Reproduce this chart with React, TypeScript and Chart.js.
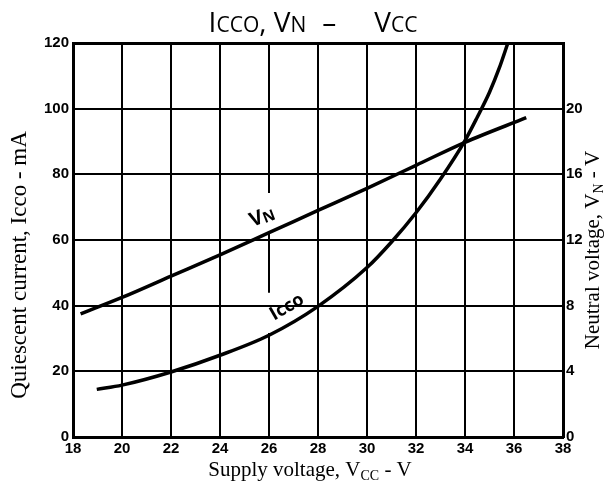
import React, { useEffect, useRef } from "react";
import { Chart, registerables } from "chart.js";

Chart.register(...registerables);

// ---- data ----
const vccForIcco = [18.97, 20, 22, 24, 26, 28, 30, 31, 32, 33, 34, 34.5, 35, 35.4, 35.75];
const iccoMilliamps = [14.5, 15.8, 19.8, 24.9, 31.0, 39.8, 51.6, 59.4, 68.3, 78.6, 90.3, 97.4, 105, 112.4, 120];
const vccForVn = [18.31, 20, 22, 24, 26, 28, 30, 32, 34, 36.5];
const vnVolts = [7.5, 8.5, 9.8, 11.1, 12.45, 13.8, 15.15, 16.55, 17.95, 19.45];

const xMin = 18, xMax = 38, xStep = 2;
const leftMax = 120, leftStep = 20;
const rightMax = 24, rightStep = 4, rightLastLabel = 20;

// curve label anchors (data units: x, left-axis value)
const vnLabelAt = [25.7, 67.3];
const iccoLabelAt = [26.7, 40.0];

// x=26 grid line is interrupted around the curve labels (left-axis value spans that are drawn)
const splitGridX = 26;
const splitGridSpans: number[][] = [[120, 74.3], [62.1, 43.9], [31.7, 0]];

const TICK_FONT = "'Liberation Sans Narrow', 'Arial Narrow', 'Liberation Sans', sans-serif";
const SERIF = "'Liberation Serif', 'Times New Roman', serif";
const SANS = "'Open Sans', 'DejaVu Sans', sans-serif";

type Run = { t: string; f: string; dy?: number; gap?: number };

function runsWidth(ctx: CanvasRenderingContext2D, runs: Run[]) {
  let w = 0;
  for (const r of runs) {
    if (r.gap) { w += r.gap; continue; }
    ctx.font = r.f;
    w += ctx.measureText(r.t).width;
  }
  return w;
}

function drawRuns(ctx: CanvasRenderingContext2D, runs: Run[], cx: number, baseline: number) {
  let x = cx - runsWidth(ctx, runs) / 2;
  ctx.textAlign = "left";
  for (const r of runs) {
    if (r.gap) { x += r.gap; continue; }
    ctx.font = r.f;
    ctx.fillText(r.t, x, baseline + (r.dy || 0));
    x += ctx.measureText(r.t).width;
  }
}

const textPlugin = {
  id: "textPlugin",
  beforeDatasetsDraw(chart: any) {
    const { ctx, scales } = chart;
    const xs = scales.x, ys = scales.y;
    ctx.save();
    ctx.strokeStyle = "#000";
    ctx.lineWidth = 2;
    const px = Math.round(xs.getPixelForValue(splitGridX));
    for (const [a, b] of splitGridSpans) {
      ctx.beginPath();
      ctx.moveTo(px, ys.getPixelForValue(a));
      ctx.lineTo(px, ys.getPixelForValue(b));
      ctx.stroke();
    }
    ctx.restore();
  },
  afterDraw(chart: any) {
    const { ctx, chartArea, scales } = chart;
    const xs = scales.x, ys = scales.y;
    ctx.save();
    ctx.fillStyle = "#000";
    ctx.textBaseline = "alphabetic";

    // main title
    const big = `500 28px ${SANS}`;
    const small = `500 21px ${SANS}`;
    drawRuns(
      ctx,
      [
        { t: "I", f: big },
        { t: "CCO", f: small },
        { t: ", ", f: big },
        { t: "V", f: big },
        { t: "N", f: small },
        { t: "", f: big, gap: 16 },
        { t: "–", f: big },
        { t: "", f: big, gap: 38 },
        { t: "V", f: big },
        { t: "CC", f: small },
      ],
      (chartArea.left + chartArea.right) / 2 - 5,
      32
    );

    // bottom axis title
    const s21 = `21px ${SERIF}`;
    const s14 = `14px ${SERIF}`;
    drawRuns(
      ctx,
      [
        { t: "Supply voltage, V", f: s21 },
        { t: "CC", f: s14, dy: 4 },
        { t: " - V", f: s21 },
      ],
      (chartArea.left + chartArea.right) / 2 - 8,
      476
    );

    // left axis title
    ctx.save();
    ctx.translate(26, (chartArea.top + chartArea.bottom) / 2 + 25);
    ctx.rotate(-Math.PI / 2);
    drawRuns(ctx, [{ t: "Quiescent current, Icco - mA", f: `23px ${SERIF}` }], 0, 0);
    ctx.restore();

    // right axis title
    ctx.save();
    ctx.translate(599, (chartArea.top + chartArea.bottom) / 2 + 10);
    ctx.rotate(-Math.PI / 2);
    drawRuns(
      ctx,
      [
        { t: "Neutral voltage, V", f: s21 },
        { t: "N", f: s14, dy: 4 },
        { t: " - V", f: s21 },
      ],
      0,
      0
    );
    ctx.restore();

    // curve labels
    ctx.save();
    ctx.translate(xs.getPixelForValue(vnLabelAt[0]), ys.getPixelForValue(vnLabelAt[1]));
    ctx.rotate((-21 * Math.PI) / 180);
    drawRuns(ctx, [{ t: "V", f: `bold 20px ${SANS}` }, { t: "N", f: `bold 15px ${SANS}`, dy: 1 }], 0, 7);
    ctx.restore();

    ctx.save();
    ctx.translate(xs.getPixelForValue(iccoLabelAt[0]), ys.getPixelForValue(iccoLabelAt[1]));
    ctx.rotate((-30 * Math.PI) / 180);
    drawRuns(ctx, [{ t: "I", f: `bold 19px ${SANS}` }, { t: "cco", f: `bold 18px ${SANS}` }], 0, 7);
    ctx.restore();

    ctx.restore();
  },
};

export default function App() {
  const ref = useRef<HTMLCanvasElement | null>(null);
  useEffect(() => {
    if (!ref.current) return;
    const tickFont = { family: TICK_FONT, size: 15, weight: "bold" as const };
    const gridColor = (c: any) =>
      c.tick && c.tick.value === splitGridX ? "rgba(0,0,0,0)" : "#000";
    const chart = new Chart(ref.current, {
      type: "line",
      data: {
        datasets: [
          {
            label: "Icco",
            data: vccForIcco.map((x, i) => ({ x, y: iccoMilliamps[i] })),
            yAxisID: "y",
            borderColor: "#000",
            borderWidth: 3.5,
            pointRadius: 0,
            cubicInterpolationMode: "monotone",
            fill: false,
          },
          {
            label: "VN",
            data: vccForVn.map((x, i) => ({ x, y: vnVolts[i] })),
            yAxisID: "y2",
            borderColor: "#000",
            borderWidth: 3.5,
            pointRadius: 0,
            cubicInterpolationMode: "monotone",
            fill: false,
          },
        ],
      },
      options: {
        responsive: false,
        animation: false,
        layout: { padding: { top: 43, left: 0, right: 0, bottom: 0 } },
        plugins: { legend: { display: false }, title: { display: false }, tooltip: { enabled: false } },
        scales: {
          x: {
            type: "linear",
            position: "bottom",
            min: xMin,
            max: xMax,
            afterFit: (s: any) => { s.height = 47; },
            ticks: { stepSize: xStep, font: tickFont, color: "#000", padding: 3, maxRotation: 0, autoSkip: false },
            grid: { color: gridColor, lineWidth: 2, drawTicks: false },
            border: { color: "#000", width: 3 },
          },
          y: {
            type: "linear",
            position: "left",
            min: 0,
            max: leftMax,
            afterFit: (s: any) => { s.width = 73; },
            ticks: { stepSize: leftStep, font: tickFont, color: "#000", padding: 4 },
            grid: { color: "#000", lineWidth: (c: any) => (c.tick && c.tick.value === leftMax ? 3 : 2), drawTicks: false },
            border: { color: "#000", width: 3 },
          },
          y2: {
            type: "linear",
            position: "right",
            min: 0,
            max: rightMax,
            afterFit: (s: any) => { s.width = 47; },
            ticks: {
              stepSize: rightStep,
              font: tickFont,
              color: "#000",
              padding: 3,
              callback: (v: any) => (Number(v) > rightLastLabel ? "" : String(v)),
            },
            grid: { display: false, drawTicks: false },
            border: { color: "#000", width: 3 },
          },
        },
      },
      plugins: [textPlugin],
    } as any);
    return () => chart.destroy();
  }, []);

  return (
    <div style={{ position: "absolute", left: 0, top: 0, width: 610, height: 484, background: "#fff" }}>
      <canvas ref={ref} width={610} height={484} style={{ width: 610, height: 484, display: "block" }} />
    </div>
  );
}
